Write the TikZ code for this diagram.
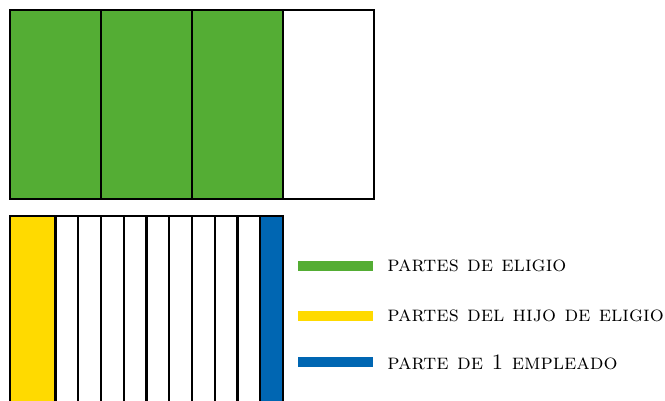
\documentclass[tikz,border=0pt]{standalone}
\usepackage{xcolor}
\usetikzlibrary{positioning}
\definecolor{eligio}{RGB}{84,173,52}
\definecolor{hijo}{RGB}{255,218,0}
\definecolor{empleado}{RGB}{0,102,178}
\tikzset{
  frame/.style  = {draw=black, line width=2.4pt},
  sep/.style    = {draw=black, line width=2.2pt},
  bar/.style    = {rectangle, inner sep=0pt, minimum width=75pt,
                   minimum height=10pt},
  legend/.style = {font=\fontsize{22}{24}\selectfont\scshape, inner sep=0pt,
                   anchor=west},
}
\begin{document}
\begin{tikzpicture}[x=1pt, y=-1pt, node distance=14pt]
  \useasboundingbox (0,0) rectangle (665,401);
  \clip (0,0) rectangle (665,401);
  % whole of four parts
  \foreach \i in {0,1,2}
    \fill[eligio] (10+91*\i,10) rectangle (101+91*\i,199);
  \foreach \i in {1,2,3}
    \draw[sep] (10+91*\i,10) -- (10+91*\i,199);
  \draw[frame] (10,10) rectangle (374,199);
  % whole of twelve parts
  \fill[hijo] (10,216) rectangle (55.5,410);
  \fill[empleado] (260.25,216) rectangle (283,410);
  \foreach \j in {2,...,11}
    \draw[sep] (10+22.75*\j,216) -- (10+22.75*\j,410);
  \draw[frame] (10,216) rectangle (283,410);
  % legend
  \node[bar, fill=eligio]   (gbar) at (335.5,266) {};
  \node[bar, fill=hijo]     (ybar) at (335.5,316) {};
  \node[bar, fill=empleado] (bbar) at (335.5,362) {};
  \node[legend, right=of gbar] (gtxt) {partes de eligio};
  \node[legend, right=of ybar] (ytxt) {partes del hijo de eligio};
  \node[legend, right=of bbar] (btxt) {parte de 1 empleado};
\end{tikzpicture}
\end{document}
